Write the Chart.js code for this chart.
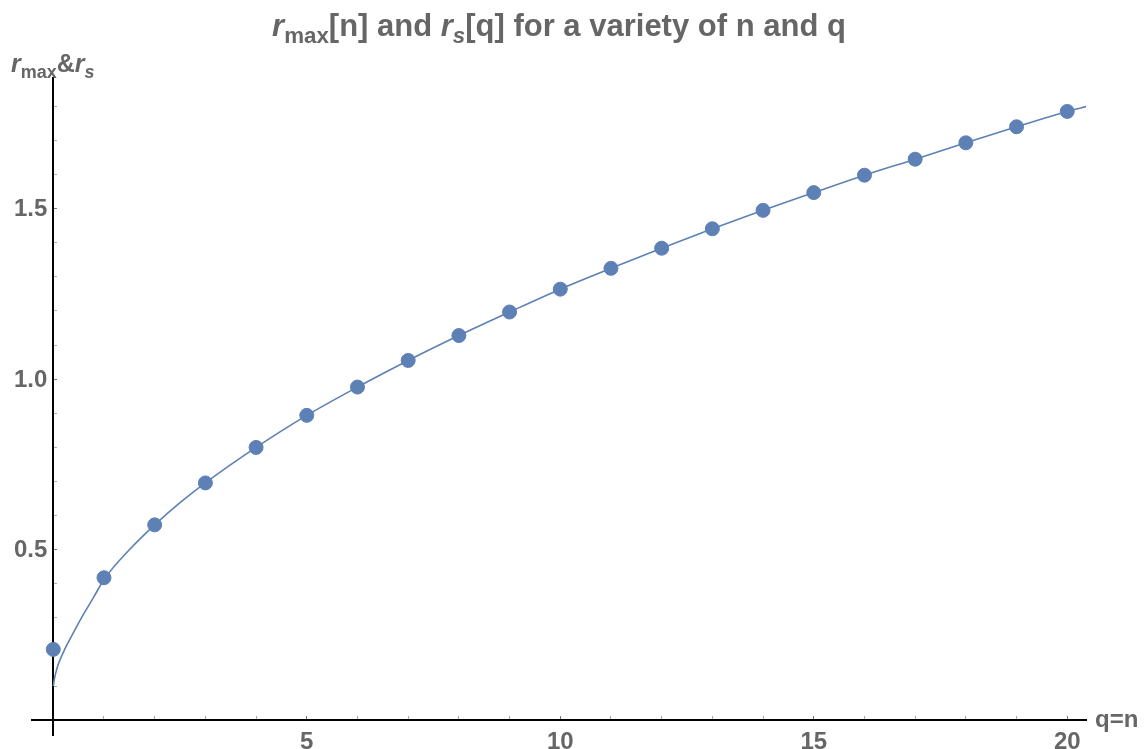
<!DOCTYPE html>
<html>
<head>
<meta charset="utf-8">
<script src="https://cdn.jsdelivr.net/npm/chart.js@4"></script>
<style>
  html, body { margin: 0; padding: 0; background: #fff; }
  #wrap { width: 1148px; height: 749px; }
</style>
</head>
<body>
<div id="wrap"><canvas id="plot"></canvas></div>
<script>
// sampled values n = 0..20 (dots)
var nVals = [0, 1, 2, 3, 4, 5, 6, 7, 8, 9, 10, 11, 12, 13, 14, 15, 16, 17, 18, 19, 20];
var rMax = [0.208, 0.418, 0.573, 0.696, 0.800, 0.894, 0.977, 1.055, 1.128, 1.197, 1.264,
            1.325, 1.384, 1.441, 1.495, 1.547, 1.598, 1.645, 1.693, 1.740, 1.785];

// continuous curve r_s[q]
var qVals = [0, 0.02, 0.05, 0.1, 0.2, 0.3, 0.45, 0.6, 0.8, 1, 1.5, 2, 2.5, 3, 4, 5, 6, 7, 8, 9, 10,
             11, 12, 13, 14, 15, 16, 17, 18, 19, 20, 20.4];
var rS = [0.10, 0.12, 0.14, 0.165, 0.20, 0.23, 0.272, 0.312, 0.362, 0.413, 0.50, 0.573, 0.638, 0.696,
          0.800, 0.894, 0.977, 1.055, 1.128, 1.197, 1.264, 1.325, 1.384, 1.441, 1.495, 1.547,
          1.598, 1.645, 1.693, 1.740, 1.785, 1.80];

var xTickLabels = [5, 10, 15, 20];
var yTickLabels = [0.5, 1.0, 1.5];

var blue = 'rgb(94,129,181)';
var grey = '#666666';
var fam = '"Liberation Sans", Arial, sans-serif';

var dots = nVals.map(function (n, i) { return { x: n, y: rMax[i] }; });
var curve = qVals.map(function (q, i) { return { x: q, y: rS[i] }; });

// draws a run of mixed-style text pieces
function drawRich(ctx, parts, x, y, size, align) {
  var total = 0;
  parts.forEach(function (p) {
    var s = p.sub ? size * 0.72 : size;
    ctx.font = (p.it ? 'italic ' : '') + 'bold ' + s + 'px ' + fam;
    p.w = ctx.measureText(p.t).width;
    total += p.w;
  });
  var cx = align === 'center' ? x - total / 2 : x;
  ctx.textAlign = 'left';
  ctx.textBaseline = 'alphabetic';
  parts.forEach(function (p) {
    var s = p.sub ? size * 0.72 : size;
    ctx.font = (p.it ? 'italic ' : '') + 'bold ' + s + 'px ' + fam;
    ctx.fillText(p.t, cx, y + (p.sub ? size * 0.22 : 0));
    cx += p.w;
  });
}

var labelsPlugin = {
  id: 'labels',
  afterDraw: function (chart) {
    var ctx = chart.ctx;
    var xs = chart.scales.x, ys = chart.scales.y;
    ctx.save();
    ctx.fillStyle = grey;
    drawRich(ctx, [
      { t: 'r', it: true }, { t: 'max', sub: true }, { t: '[n] and ' },
      { t: 'r', it: true }, { t: 's', it: true, sub: true },
      { t: '[q] for a variety of n and q' }
    ], 559, 36, 31, 'center');
    drawRich(ctx, [
      { t: 'r', it: true }, { t: 'max', sub: true }, { t: '&' },
      { t: 'r', it: true }, { t: 's', it: true, sub: true }
    ], 11, 72, 25, 'left');
    ctx.font = 'bold 24px ' + fam;
    ctx.textAlign = 'left';
    ctx.textBaseline = 'middle';
    var ay = ys.getPixelForValue(0);
    ctx.fillText('q=n', 1095, ay);
    // y tick labels, left of the axis at x = 0
    ctx.textAlign = 'right';
    var ax = xs.getPixelForValue(0);
    yTickLabels.forEach(function (v) {
      ctx.fillText(v.toFixed(1), ax - 6, ys.getPixelForValue(v) + 1);
    });
    ctx.restore();
  }
};

new Chart(document.getElementById('plot'), {
  type: 'scatter',
  data: {
    datasets: [{
      label: 'r_max[n]',
      data: dots,
      backgroundColor: blue,
      borderColor: blue,
      pointRadius: 7,
      pointHoverRadius: 7,
      showLine: false,
      order: 0
    }, {
      label: 'r_s[q]',
      data: curve,
      borderColor: blue,
      borderWidth: 1.6,
      pointRadius: 0,
      showLine: true,
      cubicInterpolationMode: 'monotone',
      fill: false,
      order: 1
    }]
  },
  options: {
    responsive: true,
    maintainAspectRatio: false,
    animation: false,
    layout: { padding: { left: 32, right: 62, top: 78, bottom: 14 } },
    plugins: {
      legend: { display: false },
      tooltip: { enabled: false },
      title: { display: false }
    },
    scales: {
      x: {
        type: 'linear',
        position: { y: 0 },
        min: -0.42,
        max: 20.37,
        afterFit: function (s) { s.height = 0; },
        border: { color: '#000', width: 2 },
        grid: {
          drawOnChartArea: false,
          tickLength: -5,
          color: function (c) {
            if (!c.tick || c.tick.value === 0) return 'rgba(0,0,0,0)';
            return c.tick.value % 5 === 0 ? '#777' : '#aaa';
          }
        },
        ticks: {
          stepSize: 1,
          includeBounds: false,
          autoSkip: false,
          maxRotation: 0,
          padding: 13,
          color: grey,
          font: { family: fam, size: 24, weight: 'bold' },
          callback: function (v) { return xTickLabels.indexOf(v) >= 0 ? String(v) : ''; }
        }
      },
      y: {
        type: 'linear',
        position: { x: 0 },
        min: -0.043,
        max: 1.883,
        afterFit: function (s) { s.width = 0; },
        border: { color: '#000', width: 2 },
        grid: {
          drawOnChartArea: false,
          tickLength: -5,
          color: function (c) {
            if (!c.tick || Math.abs(c.tick.value) < 1e-9) return 'rgba(0,0,0,0)';
            var k = Math.round(c.tick.value * 10);
            return k % 5 === 0 ? '#777' : '#aaa';
          }
        },
        ticks: {
          stepSize: 0.1,
          includeBounds: false,
          autoSkip: false,
          display: false
        }
      }
    }
  },
  plugins: [labelsPlugin]
});
</script>
</body>
</html>
